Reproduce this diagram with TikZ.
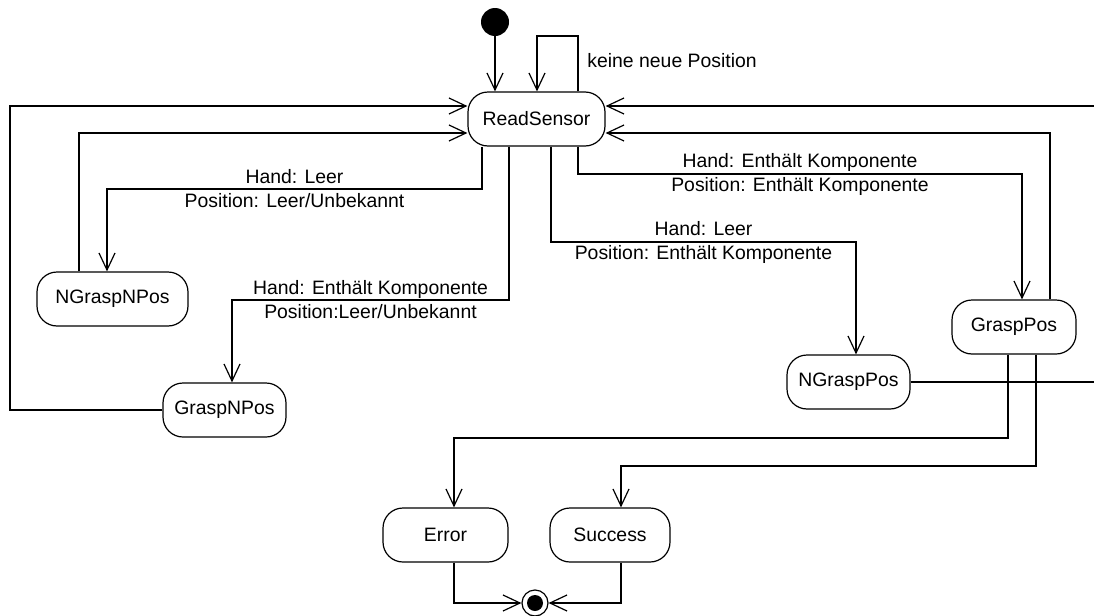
\documentclass[tikz,border=0pt]{standalone}
\usepackage{fontspec}
\setmainfont{Liberation Sans}
\usetikzlibrary{arrows.meta}
\begin{document}
\begin{tikzpicture}[x=0.5pt,y=-0.5pt,
  state/.style={draw, line width=0.6pt, rounded corners=10pt, inner sep=0pt,
    minimum height=27pt, font=\fontsize{9.7}{12}\selectfont},
  flow/.style={draw, line width=0.6pt, -{Straight Barb[length=8.5pt,width=8pt]}},
  guard/.style={align=center, inner sep=0pt, font=\fontsize{9.7}{12}\selectfont}]
\useasboundingbox (0,0) rectangle (1094,616);
\clip (0,0) rectangle (1094,616);

% states
\node[state, minimum width=68.5pt] (rs)   at (536.5,119) {ReadSensor};
\node[state, minimum width=75.5pt] (ngnp) at (112.5,299) {NGraspNPos};
\node[state, minimum width=61.5pt] (gnp)  at (224.5,410) {GraspNPos};
\node[state, minimum width=61.5pt] (ngp)  at (848.5,382) {NGraspPos};
\node[state, minimum width=62pt]   (gp)   at (1014,327) {GraspPos};
\node[state, minimum width=62.5pt] (err)  at (445.5,535) {Error};
\node[state, minimum width=60pt]   (suc)  at (610,535) {Success};

% pseudo states
\node[circle, fill=black, inner sep=0pt, minimum size=14pt] (init) at (495,22) {};
\node[circle, draw, line width=0.6pt, inner sep=0pt, minimum size=13pt] (fin) at (535,603) {};
\fill (fin.center) circle (4pt);

% start and self loop
\draw[flow] (init) -- (rs.north -| init);
\draw[flow] (rs.north -| 578,0) -- (578,36) -- (537,36) -- (rs.north -| 537,0);
\node[anchor=west, inner sep=0pt, font=\fontsize{9.7}{12}\selectfont] (kn) at (587,61) {keine neue Position};

% back to ReadSensor from the left
\draw[flow] (gnp.west) -- (10,410) |- (rs.west |- 0,106);
\draw[flow] (ngnp.north -| 79,0) |- (rs.west |- 0,133);

% guarded transitions out of ReadSensor
\draw[flow] (rs.south -| 482,0) -- (482,189)
  -- node[guard] (g1) {Hand: Leer\\Position: Leer/Unbekannt} (107,189)
  -- (ngnp.north -| 107,0);
\draw[flow] (rs.south -| 509,0) -- (509,300)
  -- node[guard] (g2) {Hand: Enthält Komponente\\Position:Leer/Unbekannt} (232,300)
  -- (gnp.north -| 232,0);
\draw[flow] (rs.south -| 551,0) -- (551,242)
  -- node[guard] (g3) {Hand: Leer\\Position: Enthält Komponente} (856,242)
  -- (ngp.north -| 856,0);
\draw[flow] (rs.south -| 578,0) -- (578,174)
  -- node[guard] (g4) {Hand: Enthält Komponente\\Position: Enthält Komponente} (1022,174)
  -- (gp.north -| 1022,0);

% back to ReadSensor from the right
\draw[flow] (gp.north -| 1050,0) |- (rs.east |- 0,133);
\draw[flow] (ngp.east) -- (1110,382) |- (rs.east |- 0,106);

% outcomes of GraspPos
\draw[flow] (gp.south -| 1008,0) -- (1008,438) -- (454,438) -- (err.north -| 454,0);
\draw[flow] (gp.south -| 1036,0) -- (1036,466) -- (621,466) -- (suc.north -| 621,0);

% final state
\draw[flow] (err.south -| 454,0) |- (fin.west);
\draw[flow] (suc.south -| 621,0) |- (fin.east);
\end{tikzpicture}
\end{document}
